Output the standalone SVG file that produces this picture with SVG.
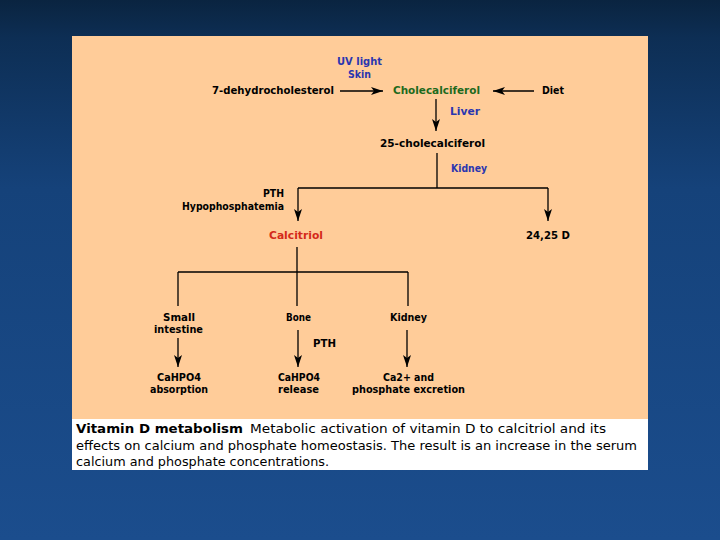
<svg xmlns="http://www.w3.org/2000/svg" width="720" height="540" viewBox="0 0 720 540">
<defs>
<linearGradient id="bg" x1="0" y1="0" x2="0" y2="1">
<stop offset="0" stop-color="#0a2440"/>
<stop offset="0.07" stop-color="#0d2e54"/>
<stop offset="0.35" stop-color="#15427a"/>
<stop offset="1" stop-color="#1b4d8d"/>
</linearGradient>
<marker id="ah" viewBox="0 0 12 8" refX="12" refY="4" markerWidth="12" markerHeight="8" markerUnits="userSpaceOnUse" orient="auto">
<path d="M0,0 L12,4 L0,8 L3,4 z" fill="#000"/>
</marker>
<style>
.t{font-family:"DejaVu Sans","Liberation Sans",sans-serif;font-weight:bold;font-size:10.5px;fill:#000}
.b{fill:#2a36b0}
.g{fill:#1d6a1d}
.r{fill:#d42a1a}
.c{font-family:"DejaVu Sans","Liberation Sans",sans-serif;font-size:11.5px;fill:#000}
.cb{font-weight:bold}
.ln{stroke:#000;stroke-width:1.3;fill:none}
.ar{stroke:#000;stroke-width:1.3;fill:none;marker-end:url(#ah)}
</style>
</defs>
<rect width="720" height="540" fill="url(#bg)"/>
<rect x="72" y="36" width="576" height="383" fill="#ffcc99"/>
<rect x="72" y="419" width="576" height="51" fill="#ffffff"/>

<g id="connectors">
<line class="ar" x1="340" y1="91" x2="383" y2="91"/>
<line class="ar" x1="534" y1="91" x2="493" y2="91"/>
<line class="ar" x1="436" y1="99" x2="436" y2="131"/>
<line class="ln" x1="437" y1="153" x2="437" y2="188"/>
<line class="ln" x1="298" y1="188" x2="548" y2="188"/>
<line class="ar" x1="298" y1="188" x2="298" y2="221"/>
<line class="ar" x1="548" y1="188" x2="548" y2="221"/>
<line class="ln" x1="297" y1="247" x2="297" y2="272"/>
<line class="ln" x1="178" y1="272" x2="408" y2="272"/>
<line class="ln" x1="178" y1="272" x2="178" y2="306"/>
<line class="ln" x1="297" y1="272" x2="297" y2="306"/>
<line class="ln" x1="408" y1="272" x2="408" y2="306"/>
<line class="ar" x1="178" y1="338" x2="178" y2="367"/>
<line class="ar" x1="298" y1="330" x2="298" y2="367"/>
<line class="ar" x1="407" y1="330" x2="407" y2="367"/>
</g>

<g id="labels">
<text class="t b" x="337" y="65" textLength="45" lengthAdjust="spacingAndGlyphs">UV light</text>
<text class="t b" x="348" y="78" textLength="23" lengthAdjust="spacingAndGlyphs">Skin</text>
<text class="t b" x="450" y="115" textLength="30" lengthAdjust="spacingAndGlyphs">Liver</text>
<text class="t b" x="451" y="172" textLength="36" lengthAdjust="spacingAndGlyphs">Kidney</text>
<text class="t" x="263" y="197" textLength="21" lengthAdjust="spacingAndGlyphs">PTH</text>
<text class="t" x="182" y="210" textLength="102" lengthAdjust="spacingAndGlyphs">Hypophosphatemia</text>
<text class="t" x="313" y="347" textLength="23" lengthAdjust="spacingAndGlyphs">PTH</text>
</g>

<g id="n-7dhc"><text class="t" x="212" y="94" textLength="122" lengthAdjust="spacingAndGlyphs">7-dehydrocholesterol</text></g>
<g id="n-cholecalciferol"><text class="t g" x="393" y="94" textLength="87" lengthAdjust="spacingAndGlyphs">Cholecalciferol</text></g>
<g id="n-diet"><text class="t" x="542" y="94" textLength="22" lengthAdjust="spacingAndGlyphs">Diet</text></g>
<g id="n-25"><text class="t" x="380" y="147" textLength="105" lengthAdjust="spacingAndGlyphs">25-cholecalciferol</text></g>
<g id="n-calcitriol"><text class="t r" x="269" y="239" textLength="54" lengthAdjust="spacingAndGlyphs">Calcitriol</text></g>
<g id="n-2425"><text class="t" x="526" y="239" textLength="44" lengthAdjust="spacingAndGlyphs">24,25 D</text></g>
<g id="n-small-intestine">
<text class="t" x="163" y="321" textLength="32" lengthAdjust="spacingAndGlyphs">Small</text>
<text class="t" x="154" y="333" textLength="49" lengthAdjust="spacingAndGlyphs">intestine</text>
</g>
<g id="n-bone"><text class="t" x="286" y="321" textLength="25" lengthAdjust="spacingAndGlyphs">Bone</text></g>
<g id="n-kidney2"><text class="t" x="390" y="321" textLength="37" lengthAdjust="spacingAndGlyphs">Kidney</text></g>
<g id="n-absorption">
<text class="t" x="157" y="381" textLength="44" lengthAdjust="spacingAndGlyphs">CaHPO4</text>
<text class="t" x="150" y="393" textLength="58" lengthAdjust="spacingAndGlyphs">absorption</text>
</g>
<g id="n-release">
<text class="t" x="278" y="381" textLength="42" lengthAdjust="spacingAndGlyphs">CaHPO4</text>
<text class="t" x="278" y="393" textLength="41" lengthAdjust="spacingAndGlyphs">release</text>
</g>
<g id="n-excretion">
<text class="t" x="383" y="381" textLength="51" lengthAdjust="spacingAndGlyphs">Ca2+ and</text>
<text class="t" x="352" y="393" textLength="113" lengthAdjust="spacingAndGlyphs">phosphate excretion</text>
</g>

<g id="caption">
<text class="c cb" x="76" y="433" textLength="167" lengthAdjust="spacingAndGlyphs">Vitamin D metabolism</text>
<text class="c" x="250" y="433" textLength="356" lengthAdjust="spacingAndGlyphs">Metabolic activation of vitamin D to calcitriol and its</text>
<text class="c" x="76" y="450" textLength="561" lengthAdjust="spacingAndGlyphs">effects on calcium and phosphate homeostasis. The result is an increase in the serum</text>
<text class="c" x="76" y="466" textLength="253" lengthAdjust="spacingAndGlyphs">calcium and phosphate concentrations.</text>
</g>
</svg>
